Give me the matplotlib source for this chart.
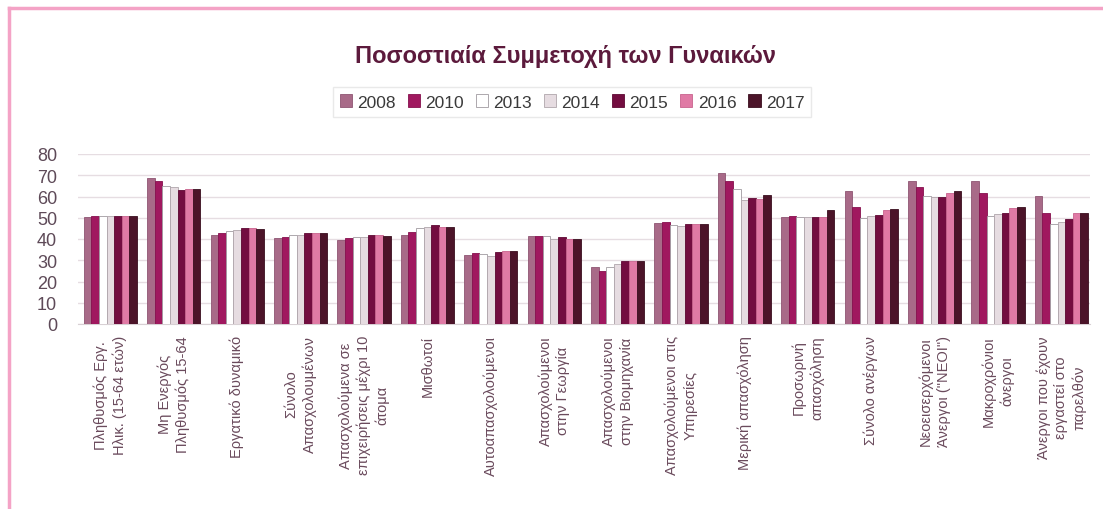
import matplotlib
matplotlib.use("Agg")
import matplotlib.pyplot as plt
import numpy as np
from matplotlib.lines import Line2D

plt.rcParams['font.family'] = ['Liberation Sans', 'DejaVu Sans']

categories = [
    "Πληθυσμός Εργ.\nΗλικ. (15-64 ετών)",
    "Μη Ενεργός\nΠληθυσμός 15-64",
    "Εργατικό δυναμικό",
    "Σύνολο\nΑπασχολουμένων",
    "Απασχολούμενα σε\nεπιχειρήσεις μέχρι 10\nάτομα",
    "Μισθωτοί",
    "Αυτοαπασχολούμενοι",
    "Απασχολούμενοι\nστην Γεωργία",
    "Απασχολούμενοι\nστην Βιομηχανία",
    "Απασχολούμενοι στις\nΥπηρεσίες",
    "Μερική απασχόληση",
    "Προσωρινή\nαπασχόληση",
    "Σύνολο ανέργων",
    "Νεοεισερχόμενοι\nΆνεργοι (\"ΝΕΟΙ\")",
    "Μακροχρόνιοι\nάνεργοι",
    "Άνεργοι που έχουν\nεργαστεί στο\nπαρελθόν",
]

years = ["2008", "2010", "2013", "2014", "2015", "2016", "2017"]

v2008 = [50.2, 68.5, 41.9, 40.3, 39.5, 42.0, 32.5, 41.6, 26.7, 47.4, 70.9, 50.5, 62.7, 67.5, 67.5, 60.4]
v2010 = [51.0, 67.5, 42.7, 41.1, 40.5, 43.5, 33.4, 41.6, 25.1, 48.2, 67.5, 50.7, 54.9, 64.6, 61.5, 52.2]
v2013 = [51.0, 65.1, 43.6, 41.7, 41.1, 45.0, 33.0, 41.6, 26.7, 46.6, 63.5, 50.5, 49.7, 60.1, 50.7, 47.1]
v2014 = [51.0, 64.3, 44.2, 41.9, 40.8, 45.5, 32.2, 40.0, 28.2, 46.3, 58.4, 50.5, 50.7, 59.6, 51.8, 48.2]
v2015 = [51.0, 63.0, 45.0, 42.7, 41.7, 46.6, 33.7, 40.8, 29.8, 46.9, 59.2, 50.5, 51.3, 59.6, 52.2, 49.4]
v2016 = [51.0, 63.5, 45.0, 42.7, 42.0, 45.6, 34.5, 40.0, 29.8, 46.9, 58.8, 50.2, 53.6, 61.6, 54.4, 52.1]
v2017 = [51.0, 63.5, 44.7, 42.7, 41.6, 45.5, 34.5, 40.0, 29.8, 46.9, 60.9, 53.8, 54.1, 62.4, 54.9, 52.1]

series = [v2008, v2010, v2013, v2014, v2015, v2016, v2017]
colors = ['#a86a88', '#a0185f', '#ffffff', '#e6dce1', '#730d40', '#e07aa5', '#4c1429']
edges = ['#8e5572', '#86104e', '#a09aa0', '#b0a6ac', '#5e0833', '#c8638e', '#3a0e1f']

fig = plt.figure(figsize=(11.03, 5.10), dpi=100)
ax = fig.add_axes([78/1103, 1-325/510, (1090-78)/1103, 170/510])

x = np.arange(len(categories))
n = len(series)
bw = 0.84 / n
for i, (vals, c, ec) in enumerate(zip(series, colors, edges)):
    ax.bar(x - 0.42 + bw*(i+0.5), vals, width=bw, color=c, edgecolor=ec,
           linewidth=0.6, label=years[i], zorder=3)

ax.set_ylim(0, 80)
ax.set_xlim(-0.51, 15.45)
ax.set_yticks(range(0, 81, 10))
ax.yaxis.grid(True, color='#e6dde2', linewidth=1.0, zorder=0)
for s in ['top', 'right', 'left']:
    ax.spines[s].set_visible(False)
ax.spines['bottom'].set_color('#d8d0d4')
ax.tick_params(axis='both', length=0)
ax.tick_params(axis='y', labelsize=13, labelcolor='#5e4a58', pad=15)
ax.set_xticks(x)
ax.set_xticklabels(categories, rotation=90, fontsize=10.5, color='#6a4a5c',
                   multialignment='center', linespacing=1.35, va='top', ha='center')
ax.tick_params(axis='x', pad=8)

fig.text(565/1103, 1-57/510, "Ποσοστιαία Συμμετοχή των Γυναικών", ha='center', va='center',
         fontsize=17, fontweight='bold', color='#5c1a3c')

leg = fig.legend(loc='center', bbox_to_anchor=(572/1103, 1-103/510), ncol=7, fontsize=12.5,
                 handlelength=0.7, handleheight=0.7, handletextpad=0.3, columnspacing=0.7,
                 frameon=True, fancybox=False, edgecolor='#e4e4e4', borderpad=0.4)
for t in leg.get_texts():
    t.set_color('#3a3a3a')

fig.add_artist(Line2D([9/1103, 9/1103], [0, 1-9/510], transform=fig.transFigure,
                      color='#f4a3c6', linewidth=2.5))
fig.add_artist(Line2D([9/1103, 1], [1-9/510, 1-9/510], transform=fig.transFigure,
                      color='#f4a3c6', linewidth=2.5))

fig.savefig("out.png", dpi=100)
